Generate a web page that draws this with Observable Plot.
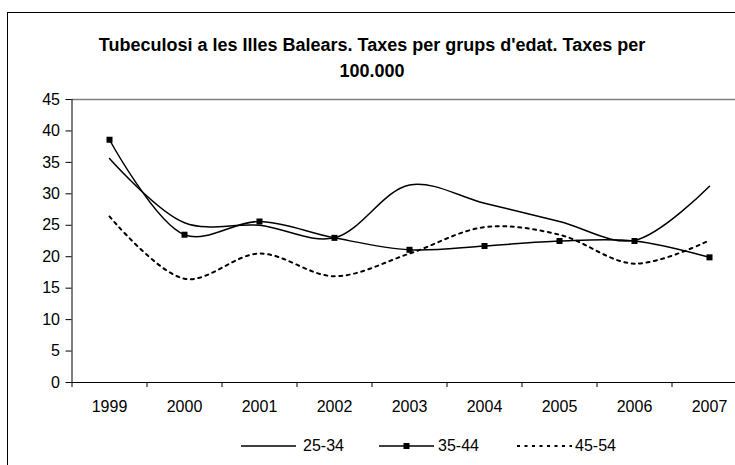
<!DOCTYPE html>
<html>
<head>
<meta charset="utf-8">
<script src="https://cdn.jsdelivr.net/npm/d3@7"></script>
<script src="https://cdn.jsdelivr.net/npm/@observablehq/plot@0.6"></script>
<style>
  html, body { margin: 0; padding: 0; background: #fff; }
  #wrap { position: relative; width: 735px; height: 465px; overflow: hidden; font-family: "Liberation Sans", Arial, sans-serif; }
  #frame { position: absolute; left: 7px; top: 12px; width: 800px; height: 520px; border: 1px solid #000; box-sizing: border-box; }
  #title { position: absolute; left: 0; top: 32px; width: 744px; text-align: center; font-weight: bold; font-size: 18px; line-height: 26px; color: #000; }
  #chart { position: absolute; left: 0; top: 90px; width: 760px; }
  #chart svg { max-width: none !important; }
  #chart svg text { font-size: 16px; }
  .item { position: absolute; top: 436px; height: 20px; display: flex; align-items: center; font-size: 16px; color: #000; white-space: nowrap; }
  .item svg { display: block; }
</style>
</head>
<body>
<div id="wrap">
  <div id="frame"></div>
  <div id="title">Tubeculosi a les Illes Balears. Taxes per grups d'edat. Taxes per<br>100.000</div>
  <div id="chart"></div>
</div>
<script>
const years = [1999, 2000, 2001, 2002, 2003, 2004, 2005, 2006, 2007];
const seriesNames = ["25-34", "35-44", "45-54"];
const s2534 = [35.6, 25.4, 25.0, 23.0, 31.4, 28.5, 25.6, 22.6, 31.2];
const s3544 = [38.6, 23.5, 25.6, 23.0, 21.1, 21.7, 22.5, 22.5, 19.9];
const s4554 = [26.4, 16.5, 20.5, 16.9, 20.5, 24.7, 23.5, 18.9, 22.6];
const yTicks = [0, 5, 10, 15, 20, 25, 30, 35, 40, 45];

const toRows = (vals) => years.map((y, i) => ({year: y, value: vals[i]}));
const r2534 = toRows(s2534);
const r3544 = toRows(s3544);
const r4554 = toRows(s4554);
const bounds = [...years.map(y => y - 0.5), years[years.length - 1] + 0.5];

const W = 760, H = 330;
const chart = Plot.plot({
  width: W,
  height: H,
  marginLeft: 71.5,
  marginRight: 13.5,
  marginTop: 9,
  marginBottom: 38,
  style: {fontFamily: "'Liberation Sans', Arial, sans-serif", fontSize: "16px", color: "#000", background: "transparent", maxWidth: "none"},
  x: {type: "linear", domain: [bounds[0], bounds[bounds.length - 1]]},
  y: {domain: [0, 45]},
  marks: [
    Plot.ruleY([45], {stroke: "#808080", strokeWidth: 1.5}),
    Plot.axisY({ticks: yTicks, tickSize: 6, tickPadding: 6, label: null, stroke: "#000", fill: "#000", fontSize: 16}),
    Plot.axisX({ticks: bounds, tickSize: 5, tickFormat: () => "", label: null, stroke: "#000"}),
    Plot.axisX({ticks: years, tickSize: 0, tickPadding: 18, tickFormat: d => String(d), label: null, fill: "#000", fontSize: 16}),
    Plot.ruleX([bounds[0]], {stroke: "#000"}),
    Plot.ruleY([0], {stroke: "#000"}),
    Plot.line(r4554, {x: "year", y: "value", curve: "catmull-rom", stroke: "#000", strokeWidth: 2, strokeDasharray: "3,4.5"}),
    Plot.line(r2534, {x: "year", y: "value", curve: "catmull-rom", stroke: "#000", strokeWidth: 1.5}),
    Plot.line(r3544, {x: "year", y: "value", curve: "catmull-rom", stroke: "#000", strokeWidth: 1.5}),
    Plot.dot(r3544, {x: "year", y: "value", symbol: "square", r: 3.4, fill: "#000", stroke: "none"})
  ]
});
document.getElementById("chart").appendChild(chart);

// Legend
const wrap = document.getElementById("wrap");
const ns = "http://www.w3.org/2000/svg";
const styles = [
  {dash: null, marker: false, width: 1.5},
  {dash: null, marker: true, width: 1.5},
  {dash: "3,4.5", marker: false, width: 2}
];
const lefts = [241, 379, 517];
const textGaps = [7, 4, 3];
seriesNames.forEach((name, i) => {
  const item = document.createElement("div");
  item.className = "item";
  item.style.left = lefts[i] + "px";
  const svg = document.createElementNS(ns, "svg");
  svg.setAttribute("width", 55);
  svg.setAttribute("height", 12);
  svg.style.marginRight = textGaps[i] + "px";
  const line = document.createElementNS(ns, "line");
  line.setAttribute("x1", 0); line.setAttribute("x2", 55);
  line.setAttribute("y1", 6); line.setAttribute("y2", 6);
  line.setAttribute("stroke", "#000");
  line.setAttribute("stroke-width", styles[i].width);
  if (styles[i].dash) line.setAttribute("stroke-dasharray", styles[i].dash);
  svg.appendChild(line);
  if (styles[i].marker) {
    const rect = document.createElementNS(ns, "rect");
    rect.setAttribute("x", 24.5); rect.setAttribute("y", 3);
    rect.setAttribute("width", 6); rect.setAttribute("height", 6);
    rect.setAttribute("fill", "#000");
    svg.appendChild(rect);
  }
  item.appendChild(svg);
  const span = document.createElement("span");
  span.textContent = name;
  item.appendChild(span);
  wrap.appendChild(item);
});
</script>
</body>
</html>
